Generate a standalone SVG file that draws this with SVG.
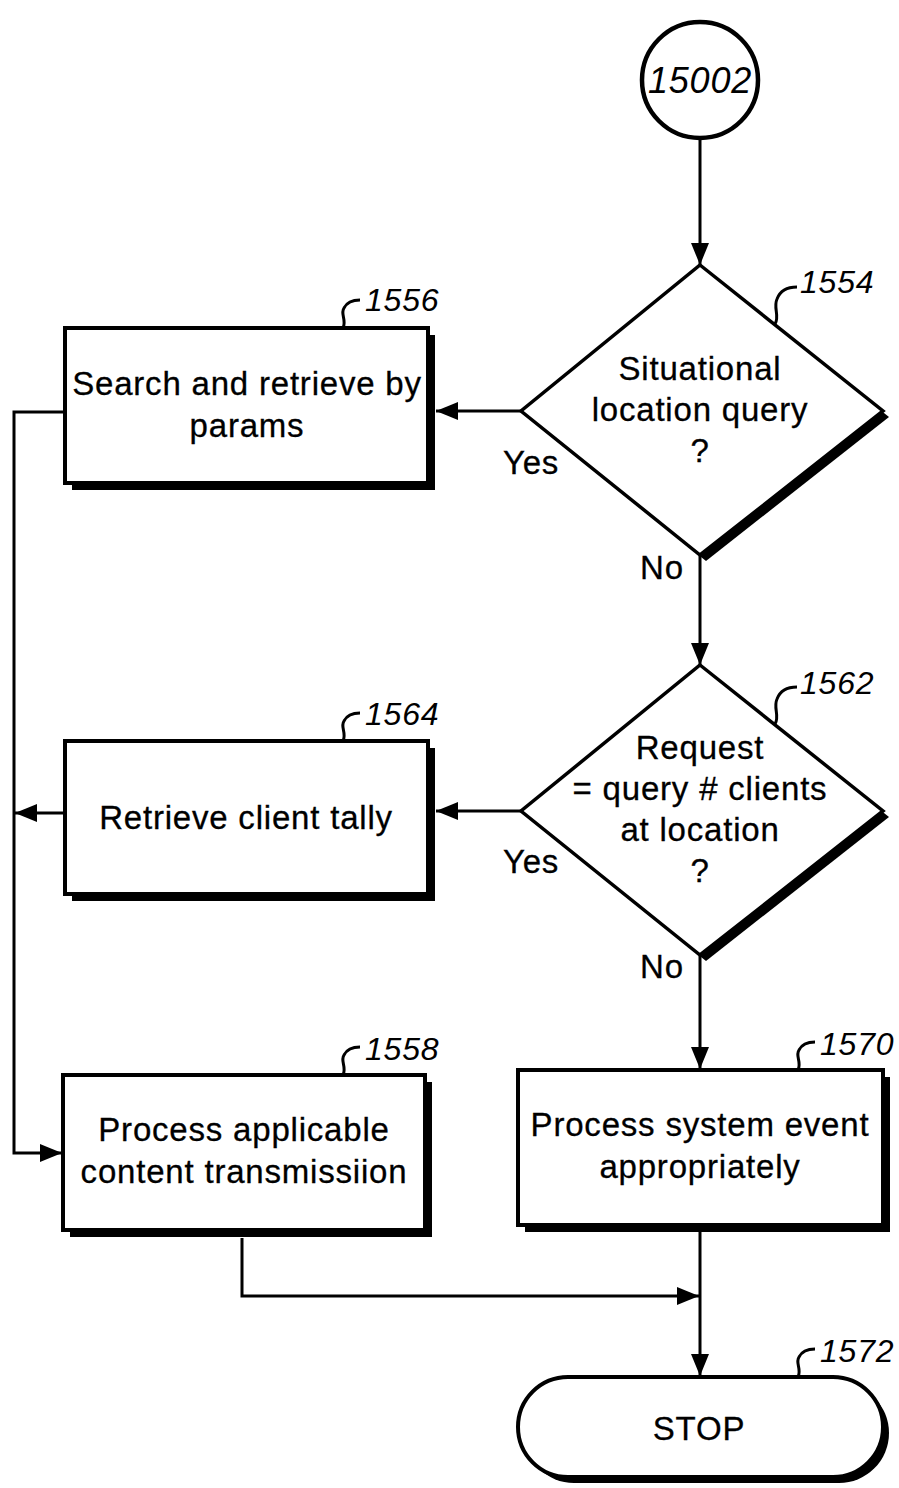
<svg xmlns="http://www.w3.org/2000/svg" width="899" height="1488" viewBox="0 0 899 1488">
<defs>
<marker id="ah" markerUnits="userSpaceOnUse" markerWidth="22" markerHeight="18" refX="22" refY="9" orient="auto">
<path d="M0,0 L22,9 L0,18 z" fill="#000"/>
</marker>
</defs>
<style>
.t{font-family:"Liberation Sans",Arial,Helvetica,sans-serif;font-size:33px;letter-spacing:0.8px;text-anchor:middle;fill:#000;stroke:#000;stroke-width:0.3}
.lab{font-family:"Liberation Sans",Arial,Helvetica,sans-serif;font-size:32px;font-style:italic;letter-spacing:0.8px;fill:#000}
.box{fill:#fff;stroke:#000;stroke-width:4}
.sh{fill:#000}
.ld{fill:none;stroke:#000;stroke-width:3}
.cn{fill:none;stroke:#000;stroke-width:3}
.cna{fill:none;stroke:#000;stroke-width:3;marker-end:url(#ah)}
</style>
<rect width="899" height="1488" fill="#fff"/>

<g id="connectors">
<path class="cna" d="M700,139 L700,265"/>
<path class="cna" d="M521,411 L436,411"/>
<path class="cna" d="M700,556 L700,665"/>
<path class="cna" d="M521,811 L436,811"/>
<path class="cna" d="M65,813 L15,813"/>
<path class="cna" d="M65,412 L14,412 L14,1153 L62,1153"/>
<path class="cna" d="M700,956 L700,1069"/>
<path class="cna" d="M242,1238 L242,1296 L699,1296"/>
<path class="cna" d="M700,1232 L700,1376"/>
</g>

<g id="n15002">
<circle cx="700" cy="80" r="58" fill="#fff" stroke="#000" stroke-width="4.5"/>
<text class="lab" x="700" y="93" style="font-size:36px;text-anchor:middle">15002</text>
</g>

<g id="n1554">
<polygon class="sh" points="706,271 889,417 706,561 527,417"/>
<polygon class="box" style="stroke-width:3.5" points="700,265 883,411 700,555 521,411"/>
<text class="t" x="700" y="380">Situational</text>
<text class="t" x="700" y="421">location query</text>
<text class="t" x="700" y="462">?</text>
<path class="ld" d="M775,324 C780,316 773,308 777,299 C780,291 787,287 797,287"/>
<text class="lab" x="800" y="293">1554</text>
<text class="t" x="531" y="474">Yes</text>
<text class="t" x="662" y="579">No</text>
</g>

<g id="n1556">
<rect class="sh" x="72" y="335" width="363" height="155"/>
<rect class="box" x="65" y="328" width="363" height="155"/>
<text class="t" x="247" y="395">Search and retrieve by</text>
<text class="t" x="247" y="437">params</text>
<path class="ld" d="M343,328 C347,320 340,314 344,308 C347,302 352,300 360,300"/>
<text class="lab" x="365" y="311">1556</text>
</g>

<g id="n1562">
<polygon class="sh" points="706,671 889,817 706,961 527,817"/>
<polygon class="box" style="stroke-width:3.5" points="700,665 883,811 700,955 521,811"/>
<text class="t" x="700" y="759">Request</text>
<text class="t" x="700" y="800">= query # clients</text>
<text class="t" x="700" y="841">at location</text>
<text class="t" x="700" y="882">?</text>
<path class="ld" d="M775,724 C780,716 773,708 777,699 C780,691 787,687 797,687"/>
<text class="lab" x="800" y="694">1562</text>
<text class="t" x="531" y="873">Yes</text>
<text class="t" x="662" y="978">No</text>
</g>

<g id="n1564">
<rect class="sh" x="72" y="748" width="363" height="153"/>
<rect class="box" x="65" y="741" width="363" height="153"/>
<text class="t" x="246" y="829">Retrieve client tally</text>
<path class="ld" d="M343,741 C347,733 340,727 344,721 C347,715 352,713 360,713"/>
<text class="lab" x="365" y="725">1564</text>
</g>

<g id="n1558">
<rect class="sh" x="70" y="1082" width="362" height="155"/>
<rect class="box" x="63" y="1075" width="362" height="155"/>
<text class="t" x="244" y="1141">Process applicable</text>
<text class="t" x="244" y="1183">content transmissiion</text>
<path class="ld" d="M343,1075 C347,1067 340,1061 344,1055 C347,1049 352,1047 360,1047"/>
<text class="lab" x="365" y="1060">1558</text>
</g>

<g id="n1570">
<rect class="sh" x="525" y="1077" width="365" height="155"/>
<rect class="box" x="518" y="1070" width="365" height="155"/>
<text class="t" x="700" y="1136">Process system event</text>
<text class="t" x="700" y="1178">appropriately</text>
<path class="ld" d="M798,1070 C802,1062 795,1056 799,1050 C802,1044 807,1042 815,1042"/>
<text class="lab" x="820" y="1055">1570</text>
</g>

<g id="n1572">
<rect class="sh" x="524" y="1383" width="365" height="100" rx="50" ry="50"/>
<rect class="box" x="518" y="1377" width="365" height="100" rx="50" ry="50"/>
<text class="t" x="699" y="1440">STOP</text>
<path class="ld" d="M798,1377 C802,1369 795,1363 799,1357 C802,1351 807,1349 815,1349"/>
<text class="lab" x="820" y="1362">1572</text>
</g>
</svg>
